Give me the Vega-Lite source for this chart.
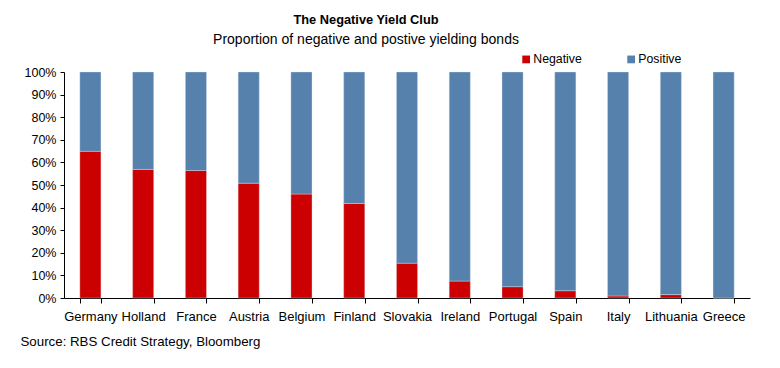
{
  "$schema": "https://vega.github.io/schema/vega-lite/v6.json",
  "width": 686,
  "height": 226,
  "autosize": {"type": "none"},
  "padding": {"left": 64, "top": 72, "right": 30, "bottom": 70},
  "background": "white",
  "title": {
    "text": "The Negative Yield Club",
    "subtitle": "Proportion of negative and postive yielding bonds",
    "anchor": "middle",
    "frame": "group",
    "dx": -41,
    "offset": 6,
    "font": "Liberation Sans",
    "fontSize": 12.8,
    "fontWeight": "bold",
    "color": "#000000",
    "subtitleFont": "Liberation Sans",
    "subtitleFontSize": 14,
    "subtitleColor": "#000000",
    "subtitlePadding": 6
  },
  "data": {
    "values": [
      {"country": "Germany", "type": "Negative", "value": 0.649, "ord": 1},
      {"country": "Germany", "type": "Positive", "value": 0.351, "ord": 2},
      {"country": "Holland", "type": "Negative", "value": 0.569, "ord": 1},
      {"country": "Holland", "type": "Positive", "value": 0.431, "ord": 2},
      {"country": "France", "type": "Negative", "value": 0.564, "ord": 1},
      {"country": "France", "type": "Positive", "value": 0.436, "ord": 2},
      {"country": "Austria", "type": "Negative", "value": 0.508, "ord": 1},
      {"country": "Austria", "type": "Positive", "value": 0.492, "ord": 2},
      {"country": "Belgium", "type": "Negative", "value": 0.46, "ord": 1},
      {"country": "Belgium", "type": "Positive", "value": 0.54, "ord": 2},
      {"country": "Finland", "type": "Negative", "value": 0.418, "ord": 1},
      {"country": "Finland", "type": "Positive", "value": 0.582, "ord": 2},
      {"country": "Slovakia", "type": "Negative", "value": 0.154, "ord": 1},
      {"country": "Slovakia", "type": "Positive", "value": 0.846, "ord": 2},
      {"country": "Ireland", "type": "Negative", "value": 0.075, "ord": 1},
      {"country": "Ireland", "type": "Positive", "value": 0.925, "ord": 2},
      {"country": "Portugal", "type": "Negative", "value": 0.05, "ord": 1},
      {"country": "Portugal", "type": "Positive", "value": 0.95, "ord": 2},
      {"country": "Spain", "type": "Negative", "value": 0.032, "ord": 1},
      {"country": "Spain", "type": "Positive", "value": 0.968, "ord": 2},
      {"country": "Italy", "type": "Negative", "value": 0.009, "ord": 1},
      {"country": "Italy", "type": "Positive", "value": 0.991, "ord": 2},
      {"country": "Lithuania", "type": "Negative", "value": 0.015, "ord": 1},
      {"country": "Lithuania", "type": "Positive", "value": 0.985, "ord": 2},
      {"country": "Greece", "type": "Negative", "value": 0.0, "ord": 1},
      {"country": "Greece", "type": "Positive", "value": 1.0, "ord": 2}
    ]
  },
  "mark": {"type": "bar", "stroke": "#dfe6ee", "strokeWidth": 0.6, "strokeOpacity": 0.6},
  "encoding": {
    "x": {
      "field": "country",
      "type": "nominal",
      "sort": null,
      "scale": {"paddingInner": 0.6, "paddingOuter": 0.3},
      "axis": {
        "title": "Source: RBS Credit Strategy, Bloomberg",
        "titleX": -44,
        "titleY": 43,
        "titleAnchor": "start",
        "titleAlign": "left",
        "titleBaseline": "middle",
        "titleFont": "Liberation Sans",
        "titleFontSize": 13.3,
        "titleFontWeight": "normal",
        "titleColor": "#000000",
        "labelAngle": 0,
        "labelFont": "Liberation Sans",
        "labelFontSize": 13,
        "labelColor": "#000000",
        "labelPadding": 7,
        "labelOverlap": false,
        "labelLimit": 0,
        "tickBand": "extent",
        "tickSize": 5,
        "tickColor": "#000000",
        "domainColor": "#000000",
        "ticks": true,
        "grid": false
      }
    },
    "y": {
      "field": "value",
      "type": "quantitative",
      "stack": "zero",
      "scale": {"domain": [0, 1], "nice": false},
      "axis": {
        "title": null,
        "format": ".0%",
        "values": [0, 0.1, 0.2, 0.3, 0.4, 0.5, 0.6, 0.7, 0.8, 0.9, 1],
        "labelOverlap": false,
        "labelFont": "Liberation Sans",
        "labelFontSize": 12.5,
        "labelColor": "#000000",
        "labelPadding": 4,
        "tickSize": 4,
        "tickColor": "#000000",
        "domainColor": "#000000",
        "grid": false
      }
    },
    "color": {
      "field": "type",
      "type": "nominal",
      "scale": {"domain": ["Negative", "Positive"], "range": ["#cc0000", "#5681ad"]},
      "legend": {
        "title": null,
        "orient": "none",
        "legendX": 456,
        "legendY": -19,
        "direction": "horizontal",
        "symbolType": "square",
        "symbolSize": 60,
        "symbolStrokeWidth": 0,
        "labelFont": "Liberation Sans",
        "labelFontSize": 12.3,
        "labelColor": "#000000",
        "labelOffset": 1,
        "columnPadding": 43
      }
    },
    "order": {"field": "ord", "type": "quantitative"}
  },
  "config": {
    "view": {"stroke": null},
    "axis": {"domainWidth": 1, "tickWidth": 1}
  }
}
